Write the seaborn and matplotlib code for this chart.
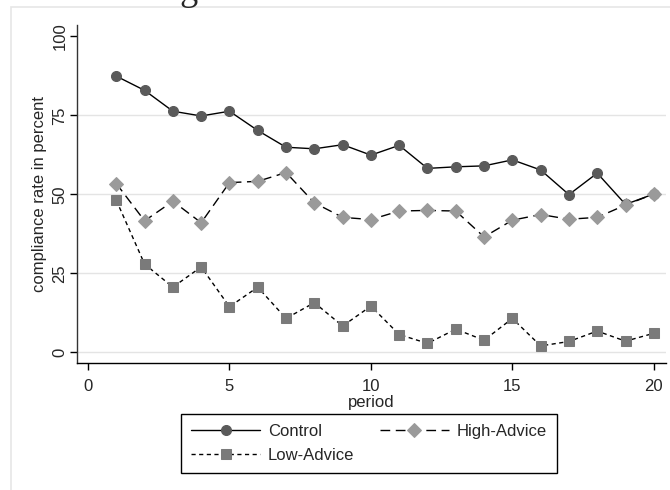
import matplotlib
matplotlib.use('Agg')
import matplotlib.pyplot as plt
from matplotlib.patches import Rectangle
import seaborn as sns
import pandas as pd
import numpy as np

# data
period = list(range(1, 21))
control = [87.4, 82.9, 76.3, 74.8, 76.3, 70.2, 64.9, 64.4, 65.7, 62.4,
           65.5, 58.2, 58.7, 59.0, 60.9, 57.7, 49.9, 56.7, 46.8, 50.1]
high_advice = [53.4, 41.6, 47.8, 41.0, 53.7, 54.1, 56.9, 47.3, 42.7, 42.0,
               44.7, 44.9, 44.7, 36.5, 41.8, 43.6, 42.1, 42.7, 46.6, 50.1]
low_advice = [48.1, 27.9, 20.6, 27.0, 14.4, 20.6, 10.7, 15.7, 8.3, 14.6,
              5.6, 2.8, 7.3, 3.8, 10.7, 2.0, 3.4, 6.7, 3.5, 6.0]

x_ticks = [0, 5, 10, 15, 20]
y_ticks = [0, 25, 50, 75, 100]

sns.set_theme(style='white')
plt.rcParams['font.family'] = ['Liberation Sans', 'DejaVu Sans']

df = pd.DataFrame({'period': period, 'Control': control,
                   'High-Advice': high_advice, 'Low-Advice': low_advice})

fig = plt.figure(figsize=(6.7, 4.9), dpi=100)
ax = fig.add_axes([0.1149, 0.2586, 0.8791, 0.6904])

# outer graph region frame
fig.patches.append(Rectangle((10.7 / 670, -0.1), 1.2, 1 - 7.3 / 490 + 0.1, transform=fig.transFigure,
                             fill=False, edgecolor='#e6e6e6', lw=1.2, zorder=0))

for y in [0, 25, 50, 75]:
    ax.axhline(y, color='#e4e4e4', lw=1, zorder=0)

sns.lineplot(data=df, x='period', y='Control', ax=ax, color='black', lw=1,
             marker='o', markersize=7.2, markerfacecolor='#5a5a5a', markeredgecolor='#5a5a5a',
             label='Control', zorder=3)
sns.lineplot(data=df, x='period', y='High-Advice', ax=ax, color='black', lw=1,
             dashes=False, linestyle=(0, (7, 4)),
             marker='D', markersize=6.8, markerfacecolor='#9a9a9a', markeredgecolor='#9a9a9a',
             label='High-Advice', zorder=3)
sns.lineplot(data=df, x='period', y='Low-Advice', ax=ax, color='black', lw=1,
             dashes=False, linestyle=(0, (3, 2.5)),
             marker='s', markersize=6.8, markerfacecolor='#7a7a7a', markeredgecolor='#7a7a7a',
             label='Low-Advice', zorder=3)

ax.set_xlim(-0.39, 20.43)
ax.set_ylim(-3.5, 103.6)
ax.set_xticks(x_ticks)
ax.set_yticks(y_ticks)
ax.set_xlabel('period', fontsize=12, labelpad=1)
ax.set_ylabel('compliance rate in percent', fontsize=12, labelpad=4)
ax.tick_params(axis='both', direction='out', length=5, width=1, color='black',
               labelsize=12, bottom=True, left=True)
ax.tick_params(axis='x', pad=6)
ax.tick_params(axis='y', pad=2)
for lab in ax.get_yticklabels():
    lab.set_rotation(90)
    lab.set_va('center')

for s in ['top', 'right']:
    ax.spines[s].set_visible(False)
ax.spines['left'].set_color('#333333')
ax.spines['bottom'].set_color('black')
ax.spines['left'].set_linewidth(1)
ax.spines['bottom'].set_linewidth(1)

h, l = ax.get_legend_handles_labels()
order = [l.index('Control'), l.index('Low-Advice'), l.index('High-Advice')]
ax.legend([h[i] for i in order], [l[i] for i in order], ncol=2, loc='center',
          bbox_to_anchor=(0.551, 0.095), bbox_transform=fig.transFigure,
          fontsize=12, handlelength=4.1, handletextpad=0.5, columnspacing=1.55,
          numpoints=1, fancybox=False, framealpha=1, edgecolor='black',
          borderpad=0.6, labelspacing=0.5)
ax.get_legend().get_frame().set_linewidth(1)

# title sits mostly above the top edge, as in the reference
fig.text(0.545, 1 - 0.5 / 490, 'High advice versus low advice', ha='center', va='baseline',
         fontsize=26, family=['Liberation Serif', 'DejaVu Serif'])

fig.savefig('out.png', dpi=100)
